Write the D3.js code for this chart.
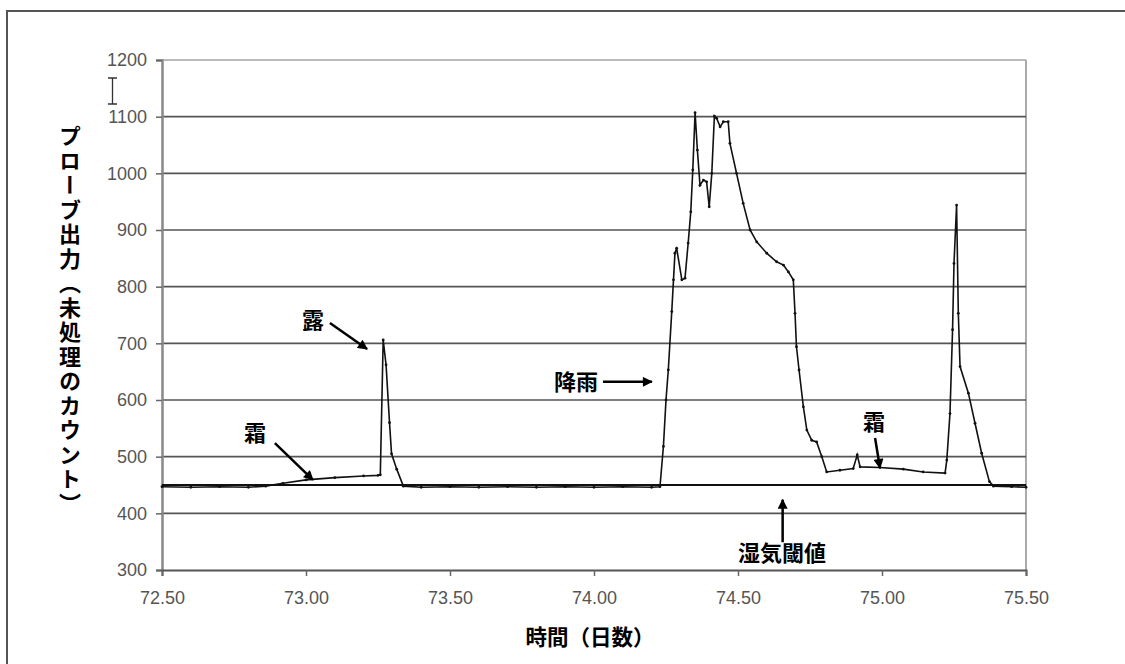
<!DOCTYPE html>
<html>
  <head>
    <script src="https://d3js.org/d3.v7.min.js" charset="utf-8"></script>
    <meta charset="UTF-8">
    <style>
      body { margin: 0; background: #fff; }
      .tick-label { font-family: "Liberation Sans", Arial, sans-serif; font-size: 18px; fill: #555; }
      .jp { font-family: "Noto Sans CJK JP", sans-serif; font-weight: bold; fill: #000; }
    </style>
  </head>
  <body>
    <svg class="chart"></svg>
    <script type="text/javascript">

     var width = 1125,
         height = 664;

     // probe output, [day, raw count]
     var days = [72.50, 72.60, 72.70, 72.80, 72.86, 72.92, 73.00, 73.10, 73.20, 73.25,
                 73.258, 73.268, 73.278, 73.29, 73.297, 73.315, 73.338, 73.40, 73.50, 73.60,
                 73.70, 73.80, 73.90, 74.00, 74.10, 74.20, 74.229, 74.241, 74.250, 74.258,
                 74.270, 74.276, 74.281, 74.287, 74.305, 74.316, 74.327, 74.336, 74.343, 74.351,
                 74.359, 74.368, 74.380, 74.391, 74.400, 74.409, 74.418, 74.426, 74.438, 74.449,
                 74.466, 74.472, 74.495, 74.518, 74.542, 74.565, 74.600, 74.634, 74.658, 74.675,
                 74.692, 74.698, 74.703, 74.712, 74.727, 74.739, 74.756, 74.773, 74.791, 74.808,
                 74.854, 74.900, 74.914, 74.924, 74.993, 75.074, 75.143, 75.219, 75.225, 75.236,
                 75.245, 75.250, 75.259, 75.265, 75.271, 75.300, 75.323, 75.346, 75.373, 75.387,
                 75.45, 75.50];
     var counts = [447, 446, 447, 446, 448, 453, 459, 463, 466, 467,
                   468, 706, 662, 560, 505, 478, 448, 446, 447, 446,
                   447, 446, 447, 446, 447, 446, 447, 518, 600, 653,
                   756, 812, 859, 868, 812, 815, 877, 932, 1006, 1107,
                   1041, 979, 988, 985, 941, 1000, 1101, 1097, 1082, 1091,
                   1091, 1053, 1000, 947, 900, 879, 859, 844, 838, 826,
                   812, 753, 694, 653, 588, 547, 529, 526, 500, 473,
                   476, 479, 503, 482, 481, 478, 473, 471, 494, 576,
                   724, 841, 944, 753, 659, 612, 559, 506, 456, 448,
                   447, 446];

     var threshold = 450;

     var xTicks = [72.5, 73.0, 73.5, 74.0, 74.5, 75.0, 75.5];
     var yTicks = [300, 400, 500, 600, 700, 800, 900, 1000, 1100, 1200];

     var yTitle = "プローブ出力（未処理のカウント）";
     var xTitle = "時間（日数）";

     // annotations: label, label pos [day, count], arrow from, arrow to
     var notes = [
         {text: "露", at: [73.024, 741], from: [73.083, 736], to: [73.212, 690], anchor: "middle"},
         {text: "霜", at: [72.823, 542], from: [72.892, 524], to: [73.024, 459], anchor: "middle"},
         {text: "降雨", at: [74.014, 632], from: [74.031, 632], to: [74.201, 632], anchor: "end"},
         {text: "霜", at: [74.972, 561], from: [74.976, 533], to: [74.993, 480], anchor: "middle"},
         {text: "湿気閾値", at: [74.653, 330], from: [74.655, 349], to: [74.655, 424], anchor: "middle"}
     ];

     var data = days.map(function(d, i) { return {x: d, y: counts[i]}; });

     var chart = d3.select(".chart")
                   .attr("width", width)
                   .attr("height", height);

     var x = d3.scaleLinear().domain([72.5, 75.5]).range([162, 1026]);
     var y = d3.scaleLinear().domain([300, 1200]).range([570, 60]);

     // outer frame (cropped on right/bottom)
     chart.append("rect")
          .attr("x", 7).attr("y", 11)
          .attr("width", 1200).attr("height", 800)
          .attr("fill", "none").attr("stroke", "#555").attr("stroke-width", 2);

     var defs = chart.append("defs");
     defs.append("marker")
         .attr("id", "arrow")
         .attr("viewBox", "0 0 10 10")
         .attr("refX", 9).attr("refY", 5)
         .attr("markerWidth", 5).attr("markerHeight", 4)
         .attr("markerUnits", "strokeWidth")
         .attr("orient", "auto")
         .append("path")
         .attr("d", "M0,0 L10,5 L0,10 z")
         .attr("fill", "#000");

     // plot frame
     chart.append("line")
          .attr("x1", x(72.5)).attr("x2", x(75.5))
          .attr("y1", y(1200)).attr("y2", y(1200))
          .attr("stroke", "#bbb").attr("stroke-width", 2);
     chart.append("line")
          .attr("x1", x(75.5)).attr("x2", x(75.5))
          .attr("y1", y(1200)).attr("y2", y(300))
          .attr("stroke", "#aaa").attr("stroke-width", 2);

     // gridlines
     chart.append("g")
          .selectAll("line")
          .data(yTicks.filter(function(t) { return t > 300 && t < 1200; }))
          .enter().append("line")
          .attr("x1", x(72.5)).attr("x2", x(75.5))
          .attr("y1", function(d) { return y(d); })
          .attr("y2", function(d) { return y(d); })
          .attr("stroke", "#555").attr("stroke-width", 1.6);

     // y axis
     var yAxis = chart.append("g")
          .attr("transform", "translate(" + x(72.5) + ",0)")
          .call(d3.axisLeft(y).tickValues(yTicks).tickSize(6).tickPadding(9).tickFormat(d3.format("d")));
     yAxis.select(".domain").attr("stroke", "#888").attr("stroke-width", 2.5);
     yAxis.selectAll(".tick line").attr("stroke", "#666").attr("stroke-width", 1.5);
     yAxis.selectAll(".tick text").attr("class", "tick-label").attr("font-size", null).attr("font-family", null);

     // x axis
     var xAxis = chart.append("g")
          .attr("transform", "translate(0," + y(300) + ")")
          .call(d3.axisBottom(x).tickValues(xTicks).tickSize(6).tickPadding(15).tickFormat(d3.format(".2f")));
     xAxis.select(".domain").attr("stroke", "#555").attr("stroke-width", 2);
     xAxis.selectAll(".tick line").attr("stroke", "#666").attr("stroke-width", 1.5);
     xAxis.selectAll(".tick text").attr("class", "tick-label").attr("font-size", null).attr("font-family", null);

     // threshold line
     chart.append("line")
          .attr("x1", x(72.5)).attr("x2", x(75.5))
          .attr("y1", y(threshold)).attr("y2", y(threshold))
          .attr("stroke", "#111").attr("stroke-width", 2.2);

     // probe line
     var line = d3.line()
                  .x(function(d) { return x(d.x); })
                  .y(function(d) { return y(d.y); });

     chart.append("path")
          .datum(data)
          .attr("d", line)
          .attr("fill", "none")
          .attr("stroke", "#111")
          .attr("stroke-width", 1.6);

     chart.append("g")
          .selectAll("circle")
          .data(data)
          .enter().append("circle")
          .attr("cx", function(d) { return x(d.x); })
          .attr("cy", function(d) { return y(d.y); })
          .attr("r", 1.4)
          .attr("fill", "#111");

     // annotations
     var ann = chart.append("g");
     ann.selectAll("line")
        .data(notes)
        .enter().append("line")
        .attr("x1", function(d) { return x(d.from[0]); })
        .attr("y1", function(d) { return y(d.from[1]); })
        .attr("x2", function(d) { return x(d.to[0]); })
        .attr("y2", function(d) { return y(d.to[1]); })
        .attr("stroke", "#000")
        .attr("stroke-width", 2.5)
        .attr("marker-end", "url(#arrow)");
     ann.selectAll("text")
        .data(notes)
        .enter().append("text")
        .attr("class", "jp")
        .attr("x", function(d) { return x(d.at[0]); })
        .attr("y", function(d) { return y(d.at[1]); })
        .attr("dy", "0.36em")
        .attr("text-anchor", function(d) { return d.anchor; })
        .attr("font-size", 22)
        .text(function(d) { return d.text; });

     // axis titles
     chart.append("text")
          .attr("class", "jp")
          .attr("x", 70).attr("y", 125)
          .attr("font-size", 22)
          .attr("letter-spacing", 2.5)
          .style("writing-mode", "vertical-rl")
          .text(yTitle);

     chart.append("text")
          .attr("class", "jp")
          .attr("x", 590).attr("y", 637)
          .attr("dy", "0.36em")
          .attr("text-anchor", "middle")
          .attr("font-size", 21.5)
          .text(xTitle);

     // text cursor left in the screenshot
     chart.append("path")
          .attr("d", "M108,78 H117 M112.5,78 V104 M108,104 H117")
          .attr("fill", "none").attr("stroke", "#333").attr("stroke-width", 1.3);

    </script>
  </body>
</html>
